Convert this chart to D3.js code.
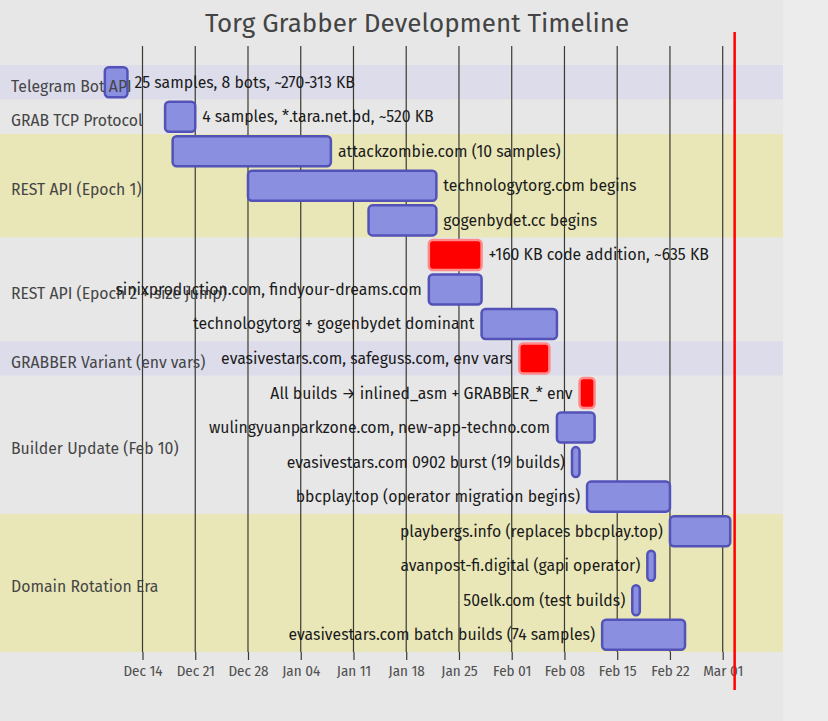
<!DOCTYPE html>
<html>
<head>
<meta charset="utf-8">
<script src="https://cdn.jsdelivr.net/npm/d3@7/dist/d3.min.js"></script>
<style>
  html, body { margin: 0; padding: 0; background: #ebebeb; }
  svg { display: block; font-family: "Fira Sans", "Open Sans", "Noto Sans", sans-serif; }
</style>
</head>
<body>
<svg id="chart" width="828" height="721"></svg>
<script>
// ---------- DATA ----------
const title = "Torg Grabber Development Timeline";

const groupNames = [
  "Telegram Bot API",
  "GRAB TCP Protocol",
  "REST API (Epoch 1)",
  "REST API (Epoch 2 + size jump)",
  "GRABBER Variant (env vars)",
  "Builder Update (Feb 10)",
  "Domain Rotation Era"
];
const groupRowCounts = [1, 1, 3, 3, 1, 4, 4];
const groupBandKinds = ["lavender", "plain", "yellow", "plain", "lavender", "plain", "yellow"];

const taskLabels = [
  "25 samples, 8 bots, ~270-313 KB",
  "4 samples, *.tara.net.bd, ~520 KB",
  "attackzombie.com (10 samples)",
  "technologytorg.com begins",
  "gogenbydet.cc begins",
  "+160 KB code addition, ~635 KB",
  "sinixproduction.com, findyour-dreams.com",
  "technologytorg + gogenbydet dominant",
  "evasivestars.com, safeguss.com, env vars",
  "All builds \u2192 inlined_asm + GRABBER_* env",
  "wulingyuanparkzone.com, new-app-techno.com",
  "evasivestars.com 0902 burst (19 builds)",
  "bbcplay.top (operator migration begins)",
  "playbergs.info (replaces bbcplay.top)",
  "avanpost-fi.digital (gapi operator)",
  "50elk.com (test builds)",
  "evasivestars.com batch builds (74 samples)"
];
const taskStarts = [
  "2025-12-09", "2025-12-17", "2025-12-18", "2025-12-28", "2026-01-13",
  "2026-01-21", "2026-01-21", "2026-01-28", "2026-02-02", "2026-02-10",
  "2026-02-07", "2026-02-09", "2026-02-11", "2026-02-22", "2026-02-19",
  "2026-02-17", "2026-02-13"
];
const taskEnds = [
  "2025-12-12", "2025-12-21", "2026-01-08", "2026-01-22", "2026-01-22",
  "2026-01-28", "2026-01-28", "2026-02-07", "2026-02-06", "2026-02-12",
  "2026-02-12", "2026-02-10", "2026-02-22", "2026-03-02", "2026-02-20",
  "2026-02-18", "2026-02-24"
];
const taskKinds = [
  "normal", "normal", "normal", "normal", "normal",
  "highlight", "normal", "normal", "highlight", "highlight",
  "normal", "normal", "normal", "normal", "normal",
  "normal", "normal"
];
const labelSides = [
  "right", "right", "right", "right", "right", "right",
  "left", "left", "left", "left", "left", "left",
  "left", "left", "left", "left", "left"
];
const tickDates = [
  "2025-12-14", "2025-12-21", "2025-12-28", "2026-01-04", "2026-01-11",
  "2026-01-18", "2026-01-25", "2026-02-01", "2026-02-08", "2026-02-15",
  "2026-02-22", "2026-03-01"
];
const todayMarker = "2026-03-02T14:00";

// ---------- LAYOUT ----------
const parse = d3.isoParse;
const W = 828, H = 721;
const plotLeft = 0, plotRight = 783;
const bandTop = 65, bandBottom = 652;
const gridTop = 46, axisY = 652;

const bandColors = { lavender: "#dcdcea", plain: "#e7e7e7", yellow: "#e9e7b8" };

const svg = d3.select("#chart");

svg.append("rect").attr("x", 0).attr("y", 0).attr("width", W).attr("height", H).attr("fill", "#ececec");
svg.append("rect").attr("x", 0).attr("y", 0).attr("width", plotRight).attr("height", H).attr("fill", "#e7e7e7");

const x = d3.scaleTime()
  .domain([parse("2025-12-14"), parse("2026-03-01")])
  .range([142.5, 722.7]);

const nRows = taskLabels.length;
const y = d3.scaleBand()
  .domain(d3.range(nRows))
  .range([bandTop, bandBottom])
  .paddingInner(0.13).paddingOuter(0.065);
const rowStep = (bandBottom - bandTop) / nRows;

// group bands
let acc = 0;
const groups = groupNames.map((name, i) => {
  const g = { name, start: acc, count: groupRowCounts[i], kind: groupBandKinds[i] };
  acc += groupRowCounts[i];
  return g;
});

svg.append("g").selectAll("rect").data(groups).join("rect")
  .attr("x", plotLeft)
  .attr("y", d => bandTop + d.start * rowStep)
  .attr("width", plotRight - plotLeft)
  .attr("height", d => d.count * rowStep)
  .attr("fill", d => bandColors[d.kind]);

// grid lines
const ticks = tickDates.map(parse);
svg.append("g").selectAll("line").data(ticks).join("line")
  .attr("x1", d => x(d)).attr("x2", d => x(d))
  .attr("y1", gridTop).attr("y2", axisY)
  .attr("stroke", "#3a3a32").attr("stroke-width", 1.2);

// axis
const axis = d3.axisBottom(x).tickValues(ticks).tickFormat(d3.timeFormat("%b %d")).tickSize(8).tickPadding(5);
const axG = svg.append("g").attr("transform", `translate(0,${axisY})`).call(axis);
axG.select(".domain").remove();
axG.selectAll(".tick line").attr("stroke", "#3a3a32").attr("stroke-width", 1.2);
axG.selectAll(".tick text")
  .attr("fill", "#505050")
  .style("font-size", "15px")
  .style("font-family", "\"Fira Sans Condensed\", \"Fira Sans\", \"Open Sans\", sans-serif");

// tasks
const tasks = taskLabels.map((label, i) => ({
  label, i,
  start: parse(taskStarts[i]),
  end: parse(taskEnds[i]),
  kind: taskKinds[i],
  side: labelSides[i]
}));

svg.append("g").selectAll("rect").data(tasks).join("rect")
  .attr("x", d => x(d.start))
  .attr("y", d => y(d.i))
  .attr("width", d => x(d.end) - x(d.start))
  .attr("height", y.bandwidth())
  .attr("rx", 4).attr("ry", 4)
  .attr("fill", d => d.kind === "highlight" ? "#ff0000" : "#8a8fe0")
  .attr("stroke", d => d.kind === "highlight" ? "#ff8a8a" : "#5252b8")
  .attr("stroke-width", 2.5);

// group labels (drawn above bars, as in the reference)
svg.append("g").selectAll("text").data(groups).join("text")
  .attr("x", 11)
  .attr("y", d => bandTop + (d.start + d.count / 2) * rowStep + 4)
  .attr("dominant-baseline", "central")
  .attr("fill", "#454545")
  .style("font-size", "15.8px")
  .text(d => d.name);

svg.append("g").selectAll("text").data(tasks).join("text")
  .attr("x", d => d.side === "right" ? x(d.end) + 7 : x(d.start) - 7)
  .attr("y", d => y(d.i) + y.bandwidth() / 2)
  .attr("text-anchor", d => d.side === "right" ? "start" : "end")
  .attr("dominant-baseline", "central")
  .attr("fill", "#1a1a1a")
  .style("font-size", "15.8px")
  .text(d => d.label);

// today marker
svg.append("line")
  .attr("x1", x(parse(todayMarker))).attr("x2", x(parse(todayMarker)))
  .attr("y1", 32).attr("y2", 690)
  .attr("stroke", "#ff0000").attr("stroke-width", 2.5);

// title
svg.append("text")
  .attr("x", 417).attr("y", 32)
  .attr("text-anchor", "middle")
  .attr("fill", "#444")
  .style("font-size", "26px")
  .text(title);
</script>
</body>
</html>
